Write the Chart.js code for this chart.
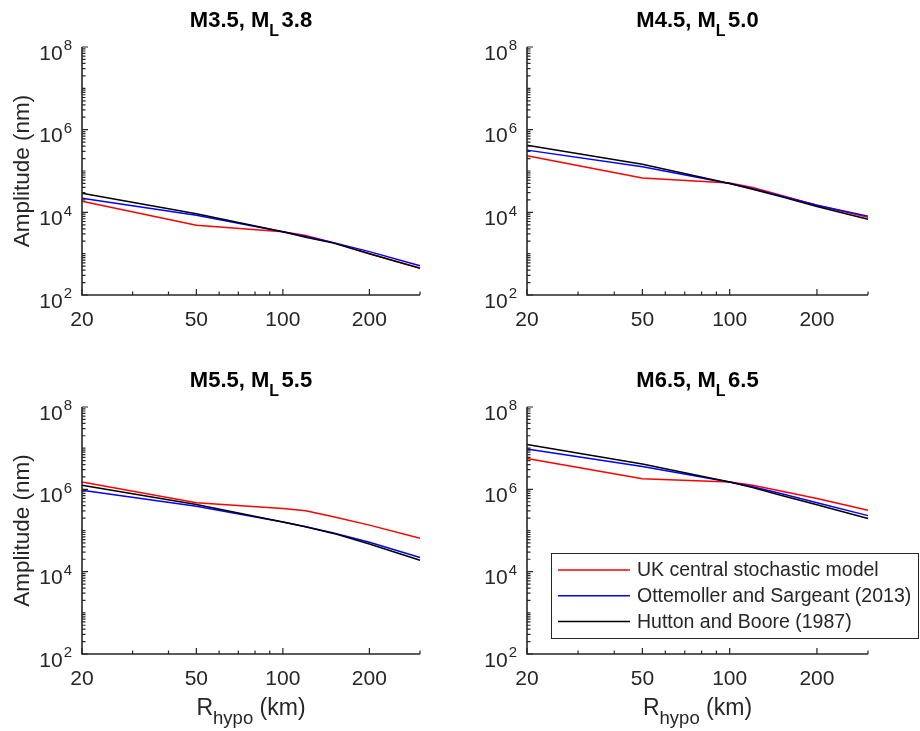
<!DOCTYPE html>
<html>
<head>
<meta charset="utf-8">
<script src="https://cdn.jsdelivr.net/npm/chart.js@4.4.1/dist/chart.umd.min.js"></script>
<style>
  html, body { margin: 0; padding: 0; background: #ffffff; }
  #wrap { position: relative; width: 920px; height: 731px; background: #ffffff; }
  canvas { position: absolute; }
</style>
</head>
<body>
<div id="wrap">
  <canvas id="p1" width="460" height="365" style="left:0px;top:0px;"></canvas>
  <canvas id="p2" width="460" height="365" style="left:460px;top:0px;"></canvas>
  <canvas id="p3" width="460" height="366" style="left:0px;top:365px;"></canvas>
  <canvas id="p4" width="460" height="366" style="left:460px;top:365px;"></canvas>
</div>
<script>
// Hypocentral distance (km) at which amplitudes are given
const distances = [20, 50, 100, 120, 150, 200, 300];

// Peak amplitudes (nm) for each magnitude scenario
const ukM35 = [1.85e4, 4.9e3, 3.4e3, 2.75e3, 1.85e3, 1.0e3, 4.5e2];
const osM35 = [2.2e4, 8.5e3, 3.4e3, 2.6e3, 1.85e3, 1.12e3, 5.1e2];
const hbM35 = [2.9e4, 9.2e3, 3.4e3, 2.5e3, 1.8e3, 1.0e3, 4.4e2];

const ukM45 = [2.35e5, 6.8e4, 5.1e4, 4.0e4, 2.6e4, 1.48e4, 7.6e3];
const osM45 = [3.2e5, 1.26e5, 5.0e4, 3.7e4, 2.5e4, 1.48e4, 8.1e3];
const hbM45 = [4.2e5, 1.45e5, 5.0e4, 3.6e4, 2.4e4, 1.38e4, 6.8e3];

const ukM55 = [1.5e6, 4.7e5, 3.4e5, 3.0e5, 2.15e5, 1.35e5, 6.5e4];
const osM55 = [9.5e5, 3.9e5, 1.6e5, 1.23e5, 8.7e4, 5.2e4, 2.2e4];
const hbM55 = [1.26e6, 4.3e5, 1.6e5, 1.23e5, 8.5e4, 4.7e4, 1.9e4];

const ukM65 = [5.6e6, 1.8e6, 1.5e6, 1.26e6, 9.1e5, 6.0e5, 3.1e5];
const osM65 = [9.5e6, 3.6e6, 1.5e6, 1.15e6, 7.9e5, 4.7e5, 2.3e5];
const hbM65 = [1.23e7, 4.1e6, 1.5e6, 1.1e6, 7.2e5, 4.2e5, 1.95e5];

// Series names and colours
const seriesLabels = ['UK central stochastic model', 'Ottemoller and Sargeant (2013)', 'Hutton and Boore (1987)'];
const seriesColors = ['#ff0000', '#0000ff', '#000000'];

// Panel titles: "M<Mw>, M_L <ML>"
const titleMw = ['M3.5', 'M4.5', 'M5.5', 'M6.5'];
const titleML = ['3.8', '5.0', '5.5', '6.5'];

// Axis ticks
const xTickLabels = [20, 50, 100, 200];
const xMinorTicks = [20, 30, 40, 50, 60, 70, 80, 90, 100, 200, 300];
const yTickExponents = [2, 4, 6, 8];

const FONT = '"Liberation Sans", Arial, Helvetica, sans-serif';
const AXIS_COLOR = '#262626';

function textW(ctx, s, font) { ctx.font = font; return ctx.measureText(s).width; }

// Draws MATLAB-style axes (left/bottom only, inward ticks), titles, labels and legend
const matlabAxes = {
  id: 'matlabAxes',
  afterDatasetsDraw(chart, args, opts) {
    const ctx = chart.ctx;
    const xs = chart.scales.x, ys = chart.scales.y;
    const a = chart.chartArea;
    ctx.save();

    // axis lines
    ctx.strokeStyle = AXIS_COLOR;
    ctx.lineWidth = 1.6;
    ctx.beginPath();
    ctx.moveTo(a.left, a.top);
    ctx.lineTo(a.left, a.bottom);
    ctx.lineTo(a.right, a.bottom);
    ctx.stroke();

    // x ticks (pointing inward)
    ctx.lineWidth = 1.2;
    ctx.beginPath();
    for (const v of xMinorTicks) {
      const px = xs.getPixelForValue(v);
      const len = xTickLabels.includes(v) ? 6 : 3.5;
      ctx.moveTo(px, a.bottom);
      ctx.lineTo(px, a.bottom - len);
    }
    // y ticks (pointing inward)
    for (let e = 2; e <= 8; e++) {
      for (let m = 1; m <= 9; m++) {
        const v = m * Math.pow(10, e);
        if (v > 1e8) break;
        const py = ys.getPixelForValue(v);
        const len = (m === 1 && yTickExponents.includes(e)) ? 6 : 3.5;
        ctx.moveTo(a.left, py);
        ctx.lineTo(a.left + len, py);
      }
    }
    ctx.stroke();

    // x tick labels
    ctx.fillStyle = AXIS_COLOR;
    ctx.font = '21px ' + FONT;
    ctx.textAlign = 'center';
    ctx.textBaseline = 'alphabetic';
    for (const v of xTickLabels) {
      ctx.fillText(String(v), xs.getPixelForValue(v), a.bottom + 30.5);
    }

    // y tick labels: 10 with superscript exponent
    const baseFont = '21px ' + FONT;
    const supFont = '15px ' + FONT;
    ctx.textAlign = 'left';
    for (const e of yTickExponents) {
      const py = ys.getPixelForValue(Math.pow(10, e));
      const sw = textW(ctx, String(e), supFont);
      const bw = textW(ctx, '10', baseFont);
      const right = a.left - 10;
      ctx.font = supFont;
      ctx.fillText(String(e), right - sw, py + 3.3);
      ctx.font = baseFont;
      ctx.fillText('10', right - sw - 1 - bw, py + 12.8);
    }

    // title: M<Mw>, M_L <ML>
    const tMain = opts.mw + ', M';
    const tFont = 'bold 22px ' + FONT;
    const tSubFont = 'bold 16px ' + FONT;
    const w1 = textW(ctx, tMain, tFont);
    const w2 = textW(ctx, 'L', tSubFont);
    const w3 = textW(ctx, opts.ml, tFont);
    const gap = 2.5;
    const total = w1 + w2 + gap + w3;
    const cx = (a.left + a.right) / 2;
    let tx = cx - total / 2;
    const tBase = a.top - 20;
    ctx.fillStyle = '#000000';
    ctx.font = tFont; ctx.fillText(tMain, tx, tBase); tx += w1;
    ctx.font = tSubFont; ctx.fillText('L', tx, tBase + 9); tx += w2 + gap;
    ctx.font = tFont; ctx.fillText(opts.ml, tx, tBase);

    // y axis label
    ctx.fillStyle = AXIS_COLOR;
    if (opts.yLabel) {
      ctx.save();
      ctx.translate(a.left - 53.5, (a.top + a.bottom) / 2);
      ctx.rotate(-Math.PI / 2);
      ctx.font = '22.5px ' + FONT;
      ctx.textAlign = 'center';
      ctx.fillText('Amplitude (nm)', 0, 0);
      ctx.restore();
    }

    // x axis label: R_hypo (km)
    if (opts.xLabel) {
      const lf = '23px ' + FONT, sf = '18.5px ' + FONT;
      const r1 = textW(ctx, 'R', lf), r2 = textW(ctx, 'hypo', sf), r3 = textW(ctx, ' (km)', lf);
      let lx = cx - (r1 + r2 + r3) / 2;
      const lb = a.bottom + 61;
      ctx.textAlign = 'left';
      ctx.font = lf; ctx.fillText('R', lx, lb); lx += r1;
      ctx.font = sf; ctx.fillText('hypo', lx, lb + 8.5); lx += r2;
      ctx.font = lf; ctx.fillText(' (km)', lx, lb);
    }

    // legend box, entries listed in series order
    if (opts.legend) {
      const L = opts.legend;
      ctx.fillStyle = '#ffffff';
      ctx.fillRect(L.x, L.y, L.w, L.h);
      ctx.strokeStyle = AXIS_COLOR;
      ctx.lineWidth = 1;
      ctx.strokeRect(L.x + 0.5, L.y + 0.5, L.w, L.h);
      ctx.font = '19.5px ' + FONT;
      ctx.textAlign = 'left';
      ctx.textBaseline = 'middle';
      seriesLabels.forEach((name, i) => {
        const ds = chart.data.datasets.find(d => d.label === name);
        const ry = L.y + 17 + i * 25.8;
        ctx.strokeStyle = ds.borderColor;
        ctx.lineWidth = 1.5;
        ctx.beginPath();
        ctx.moveTo(L.x + 7, ry);
        ctx.lineTo(L.x + 79, ry);
        ctx.stroke();
        ctx.fillStyle = AXIS_COLOR;
        ctx.fillText(ds.label, L.x + 86, ry + 1);
      });
    }
    ctx.restore();
  }
};

function makePanel(canvasId, seriesList, mw, ml, pad, flags) {
  // later series are drawn on top (lower order value = drawn last)
  const datasets = seriesList.map((vals, i) => ({
    label: seriesLabels[i],
    data: distances.map((d, k) => ({ x: d, y: vals[k] })),
    borderColor: seriesColors[i],
    backgroundColor: seriesColors[i],
    borderWidth: 1.5,
    pointRadius: 0,
    tension: 0,
    fill: false,
    clip: false,
    order: seriesList.length - i
  }));
  return new Chart(document.getElementById(canvasId), {
    type: 'line',
    data: { datasets: datasets },
    options: {
      responsive: false,
      animation: false,
      devicePixelRatio: 1,
      layout: { padding: pad },
      plugins: {
        legend: { display: false },
        tooltip: { enabled: false },
        matlabAxes: Object.assign({ mw: mw, ml: ml }, flags)
      },
      scales: {
        x: { type: 'logarithmic', min: 20, max: 300, display: false },
        y: { type: 'logarithmic', min: 1e2, max: 1e8, display: false }
      }
    },
    plugins: [matlabAxes]
  });
}

makePanel('p1', [ukM35, osM35, hbM35], titleMw[0], titleML[0],
  { left: 82, top: 47, right: 40, bottom: 70 }, { yLabel: true, xLabel: false });
makePanel('p2', [ukM45, osM45, hbM45], titleMw[1], titleML[1],
  { left: 67, top: 47, right: 52, bottom: 70 }, { yLabel: false, xLabel: false });
makePanel('p3', [ukM55, osM55, hbM55], titleMw[2], titleML[2],
  { left: 82, top: 42, right: 40, bottom: 77 }, { yLabel: true, xLabel: true });
makePanel('p4', [ukM65, osM65, hbM65], titleMw[3], titleML[3],
  { left: 67, top: 42, right: 52, bottom: 77 },
  { yLabel: false, xLabel: true, legend: { x: 91, y: 188, w: 367, h: 85 } });
</script>
</body>
</html>
